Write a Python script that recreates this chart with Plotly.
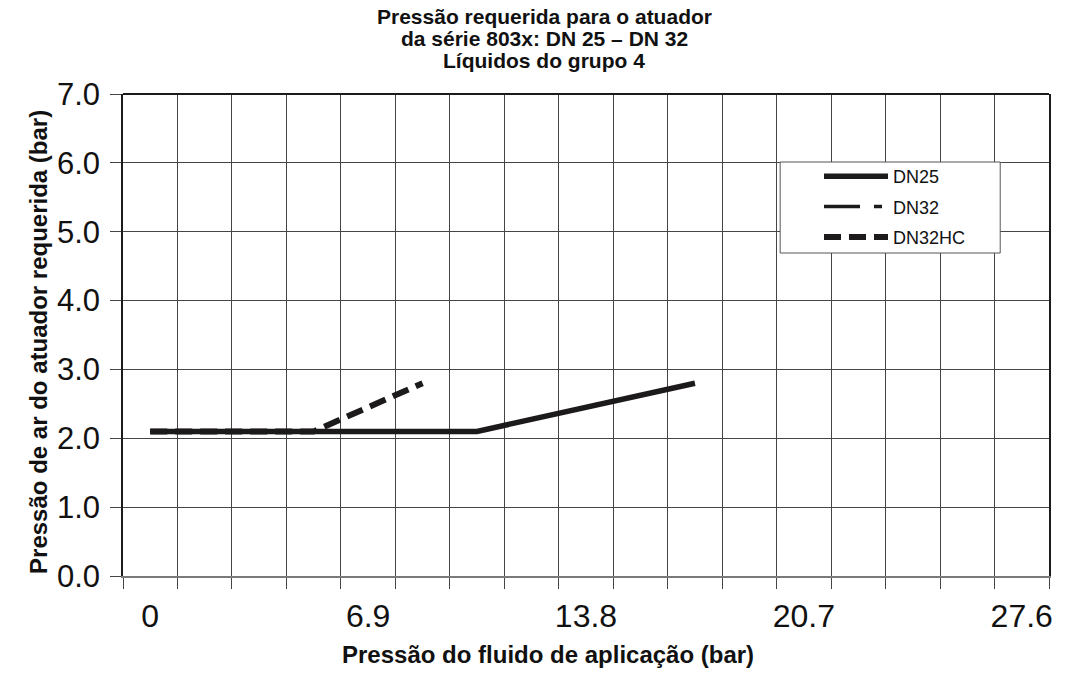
import plotly.graph_objects as go

# Pressure of the process fluid (bar) on the category grid: 0 .. 27.6 bar in 1.725 bar steps
x_step = 1.725
x_tick_vals = [0, 6.9, 13.8, 20.7, 27.6]
x_tick_text = ["0", "6.9", "13.8", "20.7", "27.6"]

# Required actuator air pressure (bar)
dn25_x = [0, 10.35, 17.25]
dn25_y = [2.1, 2.1, 2.8]

dn32_x = [0, 10.35, 17.25]
dn32_y = [2.1, 2.1, 2.8]

dn32hc_x = [0, 5.175, 8.625]
dn32hc_y = [2.1, 2.1, 2.8]

title_lines = [
    "Pressão requerida para o atuador",
    "da série 803x: DN 25 – DN 32",
    "Líquidos do grupo 4",
]

W, H = 1065, 687
L, R, T, B = 123, 1053, 94, 576
PW, PH = R - L, B - T


def px(xp):
    return (xp - L) / PW


def py(yp):
    return (B - yp) / PH


FONT = "Arial, Liberation Sans, sans-serif"
INK = "#1c1a1b"
GRID = "#454545"

fig = go.Figure()
fig.add_trace(go.Scatter(
    x=dn25_x, y=dn25_y, name="DN25", mode="lines", legendgroup="a",
    line=dict(color=INK, width=5.5),
))
fig.add_trace(go.Scatter(
    x=dn32_x, y=dn32_y, name="DN32", mode="lines", legendgroup="b",
    line=dict(color=INK, width=3.5, dash="36px,14px,8px,14px"),
))
fig.add_trace(go.Scatter(
    x=dn32hc_x, y=dn32hc_y, name="DN32HC", mode="lines", legendgroup="c",
    line=dict(color=INK, width=6, dash="17px,8px"),
))

annotations = [
    dict(text=line, xref="paper", yref="paper", x=px(546), y=py(yc),
         showarrow=False, xanchor="center", yanchor="middle",
         font=dict(family=FONT, size=21, weight="bold", color="#111"))
    for line, yc in zip(title_lines, [17, 39, 60])
]
annotations += [
    dict(text="Pressão do fluido de aplicação (bar)", xref="paper", yref="paper",
         x=px(550), y=py(670), showarrow=False,
         font=dict(family=FONT, size=24, weight="bold", color="#111")),
    dict(text="Pressão de ar do atuador requerida (bar)", xref="paper", yref="paper",
         x=px(22), y=py(342), showarrow=False, textangle=-90,
         font=dict(family=FONT, size=24, weight="bold", color="#111")),
]

fig.update_layout(
    width=W, height=H,
    margin=dict(l=L, r=W - R, t=T, b=H - B),
    paper_bgcolor="white", plot_bgcolor="white",
    font=dict(family=FONT, color="#111"),
    showlegend=True,
    legend=dict(
        x=px(822), y=py(158), xanchor="left", yanchor="top",
        bgcolor="rgba(0,0,0,0)", borderwidth=0,
        font=dict(family=FONT, size=18, color="#111"),
        tracegroupgap=4, traceorder="grouped", itemwidth=64,
    ),
    xaxis=dict(
        range=[-x_step / 2, 27.6 + x_step / 2],
        tickmode="array", tickvals=x_tick_vals, ticktext=x_tick_text,
        showgrid=False, ticks="", ticklabelstandoff=11,
        tickfont=dict(family=FONT, size=32, color="#111"),
        showline=True, linecolor="#7a7a7a", linewidth=2,
        zeroline=False, fixedrange=True,
        minor=dict(
            tick0=-x_step / 2, dtick=x_step, showgrid=True,
            gridcolor=GRID, gridwidth=1,
            ticks="outside", ticklen=11, tickcolor=GRID, tickwidth=1,
        ),
    ),
    yaxis=dict(
        range=[0, 7], dtick=1, tickformat=".1f",
        showgrid=True, gridcolor=GRID, gridwidth=1,
        ticks="outside", ticklen=11, tickcolor=GRID, ticklabelstandoff=4,
        tickfont=dict(family=FONT, size=31, color="#111"),
        showline=True, linecolor=INK, linewidth=1.5, mirror=True,
        zeroline=False, fixedrange=True,
    ),
    shapes=[
        # heavy top frame line
        dict(type="line", xref="paper", yref="paper", x0=0, x1=1, y0=1, y1=1,
             line=dict(color=INK, width=2), layer="above"),
        # legend frame
        dict(type="rect", xref="paper", yref="paper",
             x0=px(783), x1=px(1004), y0=py(253), y1=py(162),
             line=dict(color="#555", width=1), fillcolor="white", layer="above"),
    ],
    annotations=annotations,
)

fig.write_html("out.html")
